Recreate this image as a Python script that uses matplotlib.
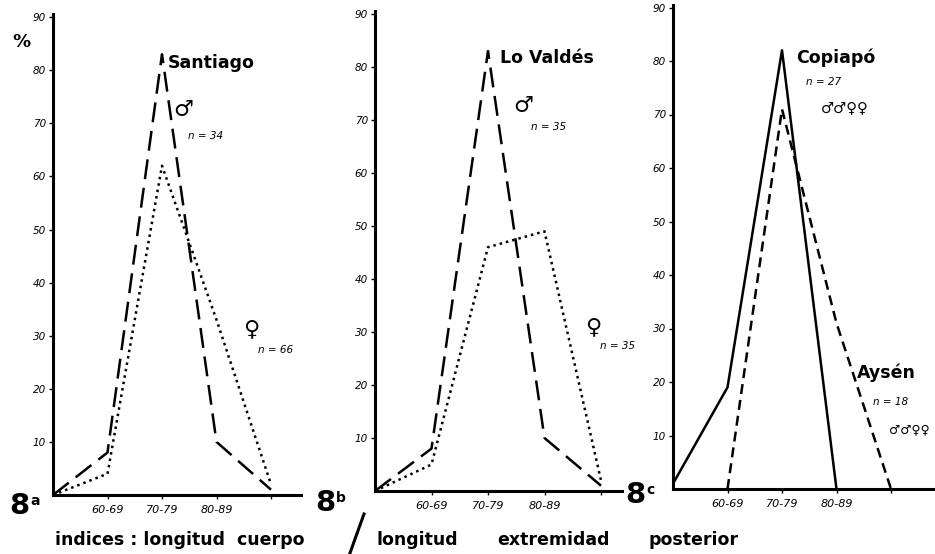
import matplotlib
matplotlib.use("Agg")
import matplotlib.pyplot as plt
from matplotlib.lines import Line2D

# categorias del indice (posiciones 0..4 en el eje x)
CATS = ["60-69", "70-79", "80-89"]
X = [0, 1, 2, 3, 4]
YTICKS = [10, 20, 30, 40, 50, 60, 70, 80, 90]

# 8a Santiago
santiago_male = [0, 8, 83, 10, 1]
santiago_female = [0, 4, 62, 33, 2]

# 8b Lo Valdes
lovaldes_male = [0, 8, 83, 10, 1]
lovaldes_female = [0, 5, 46, 49, 2]

# 8c Copiapo / Aysen
copiapo_x = [0, 1, 2, 3]
copiapo = [1, 19, 82, 0]
aysen_x = [1, 2, 3, 4]
aysen = [0, 71, 31, 0]

W, H = 935, 554
LW = 1.8
MALE_DASH = (8, 3.5)
DOTS = (1, 1.6)
SHORT_DASH = (4, 2.4)


def px(x, y):
    return x / W, 1 - y / H


def make_axes(fig, x0, y0, ux, uy, xmax, ymax=90.5):
    # ejes colocados en pixeles: origen, pixeles por unidad x / y
    ax = fig.add_axes([x0 / W, (H - y0) / H, xmax * ux / W, ymax * uy / H])
    ax.set_xlim(0, xmax)
    ax.set_ylim(0, ymax)
    for s in ("top", "right"):
        ax.spines[s].set_visible(False)
    for s in ("left", "bottom"):
        ax.spines[s].set_linewidth(2.2)
    ax.set_yticks(YTICKS)
    ax.set_yticklabels([str(v) for v in YTICKS], fontsize=7.5, style="italic")
    ax.set_xticks([1, 2, 3, 4])
    ax.set_xticklabels(CATS + [""], fontsize=8, style="italic")
    ax.tick_params(axis="both", direction="out", length=3, width=1, pad=2)
    ax.tick_params(axis="x", pad=4)
    ax.patch.set_alpha(0)
    return ax


def line(ax, xs, ys, dashes=None):
    (l,) = ax.plot(xs, ys, color="black", lw=LW, clip_on=False,
                   solid_capstyle="butt", dash_capstyle="butt")
    if dashes is not None:
        l.set_dashes(dashes)
    return l


fig = plt.figure(figsize=(W / 100, H / 100), dpi=100)

# --- 8a ---
ax_a = make_axes(fig, 53, 495, 54.5, 5.31, 4.55)
line(ax_a, X, santiago_male, MALE_DASH)
line(ax_a, X, santiago_female, DOTS)

# --- 8b ---
ax_b = make_axes(fig, 375, 491, 56.5, 5.30, 4.37)
line(ax_b, X, lovaldes_male, MALE_DASH)
line(ax_b, X, lovaldes_female, DOTS)

# --- 8c ---
ax_c = make_axes(fig, 673, 489, 54.5, 5.35, 4.8)
line(ax_c, copiapo_x, copiapo)
line(ax_c, aysen_x, aysen, SHORT_DASH)

# textos de cada panel
bold = dict(weight="bold", color="black")
ital = dict(style="italic", color="black")
sym = dict(ha="center", va="center", weight="bold", color="black")
fig.text(*px(12, 42), "%", fontsize=13, va="center", **bold)

fig.text(*px(168, 63), "Santiago", fontsize=12.5, va="center", **bold)
fig.text(*px(183, 110), "\u2642", fontsize=16, **sym)
fig.text(*px(188, 136), "n = 34", fontsize=7.5, va="center", **ital)
fig.text(*px(251, 329), "\u2640", fontsize=16, **sym)
fig.text(*px(258, 350), "n = 66", fontsize=7.5, va="center", **ital)

fig.text(*px(500, 58), "Lo Valdés", fontsize=12.5, va="center", **bold)
fig.text(*px(523, 106), "\u2642", fontsize=16, **sym)
fig.text(*px(531, 127), "n = 35", fontsize=7.5, va="center", **ital)
fig.text(*px(593, 327), "\u2640", fontsize=16, **sym)
fig.text(*px(600, 346), "n = 35", fontsize=7.5, va="center", **ital)

fig.text(*px(796, 58), "Copiapó", fontsize=12.5, va="center", **bold)
fig.text(*px(806, 82), "n = 27", fontsize=7.5, va="center", **ital)
fig.text(*px(845, 108), "\u2642\u2642\u2640\u2640", fontsize=10.5, **sym)
fig.text(*px(857, 373), "Aysén", fontsize=12.5, va="center", **bold)
fig.text(*px(873, 402), "n = 18", fontsize=7.5, va="center", **ital)
fig.text(*px(909, 430), "\u2642\u2642\u2640\u2640", fontsize=9, **sym)

# etiquetas 8a / 8b / 8c
for x, y, letter in [(9, 506, "a"), (315, 503, "b"), (625, 495, "c")]:
    fig.text(*px(x, y), "8", fontsize=21, va="center", **bold)
    fig.text(*px(x + 21, y - 5), letter, fontsize=10, va="center", **bold)

# titulo inferior
fig.text(*px(55, 540), "indices : longitud  cuerpo", fontsize=12.5, va="center", **bold)
fig.add_artist(Line2D([350 / W, 364 / W], [1 - 553 / H, 1 - 514 / H],
                      color="black", lw=2.2))
fig.text(*px(376, 540), "longitud", fontsize=12.5, va="center", **bold)
fig.text(*px(497, 540), "extremidad", fontsize=12.5, va="center", **bold)
fig.text(*px(648, 540), "posterior", fontsize=12.5, va="center", **bold)

fig.savefig("out.png", dpi=100)
